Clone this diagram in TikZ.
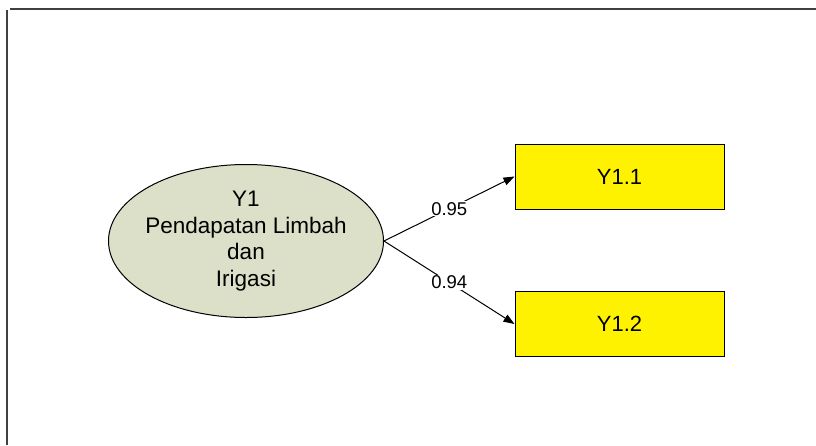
\documentclass[tikz,border=0pt]{standalone}
\usepackage{fontspec}
\setmainfont{Liberation Sans}
\usetikzlibrary{shapes.geometric,arrows.meta}
\definecolor{lvfill}{RGB}{221,224,201}
\tikzset{
  latent/.style={ellipse,draw=black,line width=1pt,fill=lvfill,minimum width=275pt,minimum height=153pt,inner xsep=-4pt,inner ysep=0pt,align=center,font=\fontsize{22.5}{26.7}\selectfont},
  manifest/.style={rectangle,draw=black,line width=1pt,fill=yellow,minimum width=209pt,minimum height=65pt,inner sep=0pt,font=\fontsize{22}{26}\selectfont},
  loading/.style={draw=black,line width=1pt,-{Triangle[length=11pt,width=8pt]}},
  lbl/.style={fill=white,inner sep=1pt,font=\fontsize{18.5}{20}\selectfont},
  frame/.style={draw=black!75,line width=1.4pt}
}
\begin{document}
\begin{tikzpicture}[x=1pt,y=-1pt]
\useasboundingbox (0,0) rectangle (816,445);
\coordinate (ftl) at (10,9);
\coordinate (ftr) at (816,9);
\coordinate (flt) at (7,10);
\coordinate (flb) at (7,445);
\draw[frame] (ftl) -- (ftr);
\draw[frame] (flt) -- (flb);
\node[latent] (lv) at (246,241) {Y1\\Pendapatan Limbah\\dan\\Irigasi};
\node[manifest] (y11) at (619.5,176.5) {Y1.1};
\node[manifest] (y12) at (619.5,324) {Y1.2};
\draw[loading] (lv.east) -- (y11.west) node[lbl,pos=0.5] {0.95};
\draw[loading] (lv.east) -- (y12.west) node[lbl,pos=0.5] {0.94};
\end{tikzpicture}
\end{document}
